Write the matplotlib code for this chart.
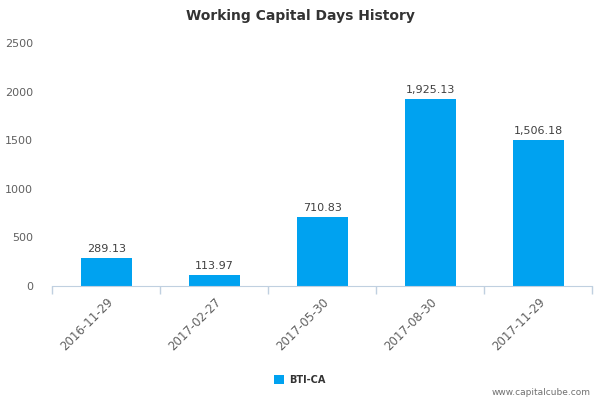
import matplotlib
matplotlib.use('Agg')
import matplotlib.pyplot as plt
import numpy as np

# data
dates = ['2016-11-29', '2017-02-27', '2017-05-30', '2017-08-30', '2017-11-29']
days = [289.13, 113.97, 710.83, 1925.13, 1506.18]
series_name = 'BTI-CA'

bar_color = '#00a2f0'
axis_color = '#c0d0e0'
text_color = '#606060'

fig = plt.figure(figsize=(6, 4), dpi=100)
ax = fig.add_axes([0.087, 0.285, 0.9, 0.6075])

x = np.arange(len(dates))
bars = ax.bar(x, days, width=0.47, color=bar_color, label=series_name, zorder=2)

for xi, v in zip(x, days):
    ax.text(xi, v + 40, f'{v:,.2f}', ha='center', va='bottom',
            fontsize=8, color='#404040')

ax.set_xlim(-0.5, len(dates) - 0.5)
ax.set_ylim(0, 2500)
ax.set_yticks([0, 500, 1000, 1500, 2000, 2500])
ax.tick_params(axis='y', length=0, pad=14, labelsize=8, labelcolor=text_color)

# category labels under the bars, tick marks between categories
ax.set_xticks(x)
ax.set_xticklabels(dates, rotation=45, ha='right', rotation_mode='anchor',
                   fontsize=8.5, color=text_color)
ax.tick_params(axis='x', length=0, pad=7)
ax.set_xticks(np.arange(-0.5, len(dates)), minor=True)
ax.tick_params(axis='x', which='minor', length=6, color=axis_color, width=1)

for s in ['top', 'right', 'left']:
    ax.spines[s].set_visible(False)
ax.spines['bottom'].set_color(axis_color)

fig.text(0.5, 0.96, 'Working Capital Days History', ha='center', va='center',
         fontsize=10, fontweight='bold', color='#333333')

leg = fig.legend(handles=[bars], labels=[series_name], loc='center',
                 bbox_to_anchor=(0.5, 0.05), frameon=False, handlelength=1.0,
                 handleheight=1.0, handletextpad=0.6,
                 prop={'size': 7, 'weight': 'bold'})
for t in leg.get_texts():
    t.set_color('#333333')

fig.text(0.985, 0.018, 'www.capitalcube.com', ha='right', va='center',
         fontsize=6.5, color='#707070')

fig.savefig('out.png', dpi=100)
